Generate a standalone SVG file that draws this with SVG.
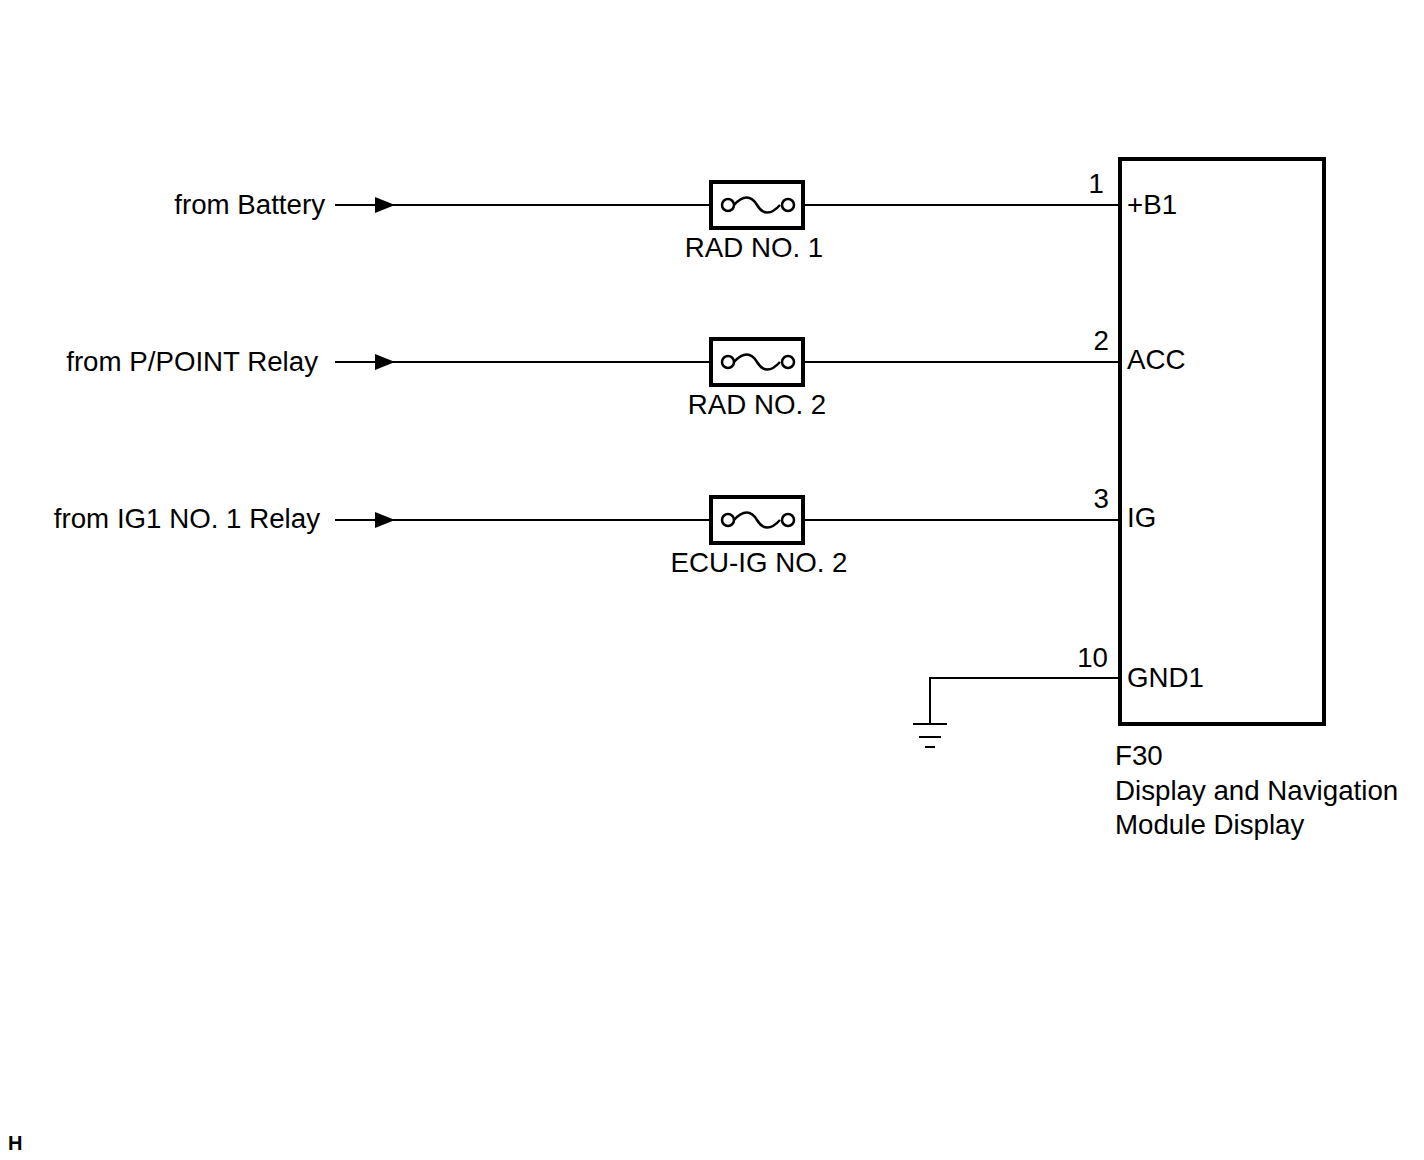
<svg xmlns="http://www.w3.org/2000/svg" width="1424" height="1160" viewBox="0 0 1424 1160">
<style>
.t{font-family:"Liberation Sans",Arial,sans-serif;font-size:27.7px;fill:#000}
.w{stroke:#000;stroke-width:2;fill:none}
.fb{stroke:#000;stroke-width:4;fill:#fff}
.fc{stroke:#000;stroke-width:2.5;fill:#fff}
.fw{stroke:#000;stroke-width:2.5;fill:none}
</style>
<defs>
<marker id="arr" viewBox="0 0 20 16" refX="20" refY="8" markerWidth="20" markerHeight="16" markerUnits="userSpaceOnUse" orient="auto">
<path d="M0,0 L20,8 L0,16 Z" fill="#000"/>
</marker>
<g id="fuse">
<rect x="-46" y="-23" width="92" height="46" class="fb"/>
<path d="M-23,0 C-14,-10 -6,-10 0,0 C6,10 14,10 23,0" class="fw"/>
<circle cx="-29" cy="0" r="6" class="fc"/>
<circle cx="31" cy="0" r="6" class="fc"/>
</g>
</defs>
<g id="connectors">
<path d="M335,205 H1119" class="w"/>
<path d="M335,205 H395" class="w" marker-end="url(#arr)"/>
<path d="M335,362 H1119" class="w"/>
<path d="M335,362 H395" class="w" marker-end="url(#arr)"/>
<path d="M335,520 H1119" class="w"/>
<path d="M335,520 H395" class="w" marker-end="url(#arr)"/>
<path d="M1119,678 H930 V724" class="w"/>
</g>
<g id="src-battery"><text class="t" x="325" y="214" text-anchor="end">from Battery</text></g>
<g id="src-ppoint"><text class="t" x="318" y="371" text-anchor="end">from P/POINT Relay</text></g>
<g id="src-ig1"><text class="t" x="320" y="528" text-anchor="end">from IG1 NO. 1 Relay</text></g>
<g id="fuse-rad1"><use href="#fuse" x="757" y="205"/><text class="t" x="754" y="257" text-anchor="middle">RAD NO. 1</text></g>
<g id="fuse-rad2"><use href="#fuse" x="757" y="362"/><text class="t" x="757" y="414" text-anchor="middle">RAD NO. 2</text></g>
<g id="fuse-ecuig2"><use href="#fuse" x="757" y="520"/><text class="t" x="759" y="572" text-anchor="middle">ECU-IG NO. 2</text></g>
<g id="ground">
<path d="M913,724 H947 M919,737 H941 M925,747 H935" stroke="#000" stroke-width="2" fill="none"/>
</g>
<g id="f30">
<rect x="1120" y="159" width="204" height="565" fill="none" stroke="#000" stroke-width="4"/>
<text class="t" x="1104" y="193" text-anchor="end">1</text>
<text class="t" x="1127" y="214">+B1</text>
<text class="t" x="1109" y="350" text-anchor="end">2</text>
<text class="t" x="1127" y="369">ACC</text>
<text class="t" x="1109" y="508" text-anchor="end">3</text>
<text class="t" x="1127" y="527">IG</text>
<text class="t" x="1108" y="667" text-anchor="end">10</text>
<text class="t" x="1127" y="687">GND1</text>
<text class="t" x="1115" y="765">F30</text>
<text class="t" x="1115" y="800">Display and Navigation</text>
<text class="t" x="1115" y="834">Module Display</text>
</g>
<text x="8" y="1150" font-family="Liberation Sans,Arial,sans-serif" font-size="20" font-weight="bold">H</text>
</svg>
